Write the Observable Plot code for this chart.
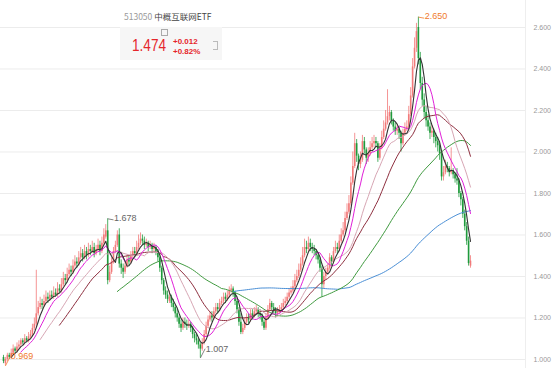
<!DOCTYPE html>
<html><head><meta charset="utf-8">
<script src="https://cdn.jsdelivr.net/npm/d3@7"></script>
<script src="https://cdn.jsdelivr.net/npm/@observablehq/plot@0.6"></script>
<style>
body{margin:0;background:#fff;}
#wrap{position:relative;width:552px;height:368px;overflow:hidden;}
#title{position:absolute;left:124px;top:10px;font-family:"Noto Sans CJK SC","Liberation Sans",sans-serif;font-size:8.5px;line-height:12px;white-space:nowrap;}
#title .code{color:#9a9a9a;}
#title .name{color:#444;}
#panel{position:absolute;left:120px;top:27px;width:102px;height:33px;background:#f6f6f6;}
#price{position:absolute;left:12px;top:9px;font-family:"Liberation Sans",sans-serif;font-size:17px;line-height:19px;color:#e5262b;transform:scaleX(0.8);transform-origin:left top;}
#chg{position:absolute;left:53px;top:10px;font-family:"Liberation Sans",sans-serif;font-size:8px;line-height:10px;color:#e5262b;font-weight:bold;}
#icon1{position:absolute;left:41px;top:2px;width:5px;height:5px;border:1px solid #aaa;}
#icon2{position:absolute;left:93px;top:14px;width:4px;height:7px;border:1px solid #bbb;border-left:none;}
</style></head><body>
<div id="wrap"><div id="chart"></div>
<div id="title"><span class="code">513050</span> <span class="name">中概互联网ETF</span></div>
<div id="panel"><div id="icon1"></div><div id="price">1.474</div><div id="chg">+0.012<br>+0.82%</div><div id="icon2"></div></div>
</div>
<script>
const openP=[
1.01,0.98,1.00,1.02,1.01,1.03,1.05,1.04,1.06,1.07,
1.09,1.08,1.10,1.09,1.11,1.12,1.15,1.17,1.22,1.25,
1.27,1.26,1.28,1.30,1.29,1.31,1.30,1.32,1.31,1.34,
1.33,1.36,1.39,1.38,1.41,1.43,1.42,1.45,1.47,1.46,
1.49,1.51,1.49,1.52,1.50,1.53,1.52,1.54,1.51,1.53,
1.55,1.52,1.56,1.59,1.62,1.38,1.42,1.47,1.52,1.55,
1.60,1.46,1.44,1.42,1.45,1.48,1.47,1.50,1.52,1.51,
1.54,1.56,1.58,1.57,1.55,1.56,1.54,1.55,1.53,1.54,
1.52,1.49,1.44,1.38,1.33,1.31,1.28,1.30,1.27,1.25,
1.22,1.20,1.17,1.15,1.18,1.17,1.16,1.17,1.15,1.12,
1.10,1.09,1.07,1.05,1.08,1.12,1.16,1.19,1.21,1.20,
1.23,1.25,1.24,1.27,1.28,1.30,1.29,1.31,1.33,1.34,
1.32,1.28,1.24,1.18,1.13,1.15,1.18,1.20,1.19,1.22,
1.21,1.23,1.24,1.22,1.21,1.18,1.15,1.20,1.24,1.27,
1.25,1.24,1.22,1.23,1.24,1.25,1.27,1.28,1.30,1.32,
1.33,1.35,1.38,1.40,1.43,1.46,1.50,1.54,1.53,1.56,
1.54,1.53,1.52,1.50,1.48,1.44,1.36,1.40,1.42,1.44,
1.49,1.47,1.52,1.54,1.53,1.57,1.60,1.62,1.68,1.71,
1.75,1.85,1.93,2.04,1.98,1.94,1.96,2.05,2.01,1.97,
1.99,2.02,2.04,2.05,2.04,1.97,2.02,2.07,2.11,2.14,
2.17,2.19,2.15,2.12,2.10,2.11,2.09,2.04,2.09,2.11,
2.12,2.18,2.27,2.41,2.50,2.60,2.45,2.33,2.25,2.19,
2.15,2.12,2.09,2.10,2.07,2.05,2.03,1.99,1.88,1.90,
1.93,1.92,1.90,1.91,1.89,1.87,1.86,1.80,1.77,1.70,
1.64,1.57,1.45];
const highP=[
1.02,1.01,1.03,1.03,1.05,1.07,1.06,1.08,1.09,1.10,
1.10,1.12,1.11,1.13,1.14,1.17,1.20,1.43,1.28,1.30,
1.29,1.31,1.33,1.32,1.33,1.33,1.35,1.34,1.37,1.36,
1.39,1.42,1.41,1.44,1.46,1.45,1.48,1.50,1.49,1.52,
1.54,1.53,1.55,1.54,1.56,1.55,1.57,1.56,1.55,1.58,
1.57,1.59,1.63,1.65,1.678,1.45,1.49,1.54,1.57,1.62,
1.63,1.48,1.46,1.47,1.50,1.50,1.52,1.54,1.54,1.57,
1.60,1.61,1.60,1.59,1.58,1.57,1.57,1.56,1.56,1.55,
1.53,1.50,1.45,1.39,1.35,1.33,1.33,1.31,1.29,1.26,
1.24,1.21,1.19,1.20,1.20,1.19,1.19,1.18,1.16,1.13,
1.12,1.10,1.08,1.10,1.14,1.18,1.21,1.23,1.23,1.25,
1.27,1.27,1.29,1.30,1.32,1.32,1.33,1.35,1.36,1.35,
1.33,1.29,1.25,1.22,1.17,1.20,1.22,1.22,1.24,1.24,
1.25,1.26,1.25,1.24,1.22,1.19,1.22,1.26,1.29,1.28,
1.27,1.25,1.25,1.26,1.27,1.29,1.30,1.32,1.34,1.35,
1.38,1.41,1.43,1.46,1.49,1.54,1.58,1.57,1.59,1.58,
1.56,1.55,1.53,1.51,1.49,1.45,1.42,1.44,1.46,1.51,
1.50,1.54,1.57,1.56,1.60,1.63,1.66,1.71,1.75,1.79,
1.88,2.00,2.09,2.06,1.99,2.00,2.08,2.07,2.02,2.02,
2.05,2.07,2.08,2.07,2.05,2.04,2.10,2.15,2.20,2.30,
2.22,2.20,2.16,2.14,2.13,2.12,2.10,2.11,2.14,2.15,
2.22,2.31,2.45,2.55,2.62,2.650,2.48,2.36,2.28,2.22,
2.18,2.14,2.13,2.11,2.09,2.07,2.04,2.00,1.93,1.96,
1.95,1.93,2.02,1.92,1.90,1.92,1.87,1.81,1.78,1.72,
1.66,1.59,1.50];
const lowP=[
0.98,0.969,0.99,1.00,1.00,1.02,1.03,1.03,1.05,1.06,
1.07,1.07,1.08,1.08,1.10,1.11,1.14,1.16,1.21,1.24,
1.24,1.25,1.27,1.27,1.28,1.29,1.29,1.30,1.30,1.32,
1.32,1.35,1.36,1.37,1.40,1.40,1.41,1.44,1.44,1.45,
1.48,1.47,1.48,1.48,1.49,1.50,1.51,1.49,1.50,1.52,
1.50,1.51,1.55,1.58,1.36,1.37,1.41,1.46,1.51,1.54,
1.44,1.41,1.39,1.41,1.44,1.45,1.46,1.49,1.49,1.50,
1.53,1.55,1.55,1.53,1.54,1.52,1.53,1.51,1.52,1.50,
1.47,1.42,1.36,1.31,1.29,1.27,1.27,1.25,1.23,1.20,
1.18,1.15,1.13,1.14,1.15,1.14,1.15,1.13,1.10,1.08,
1.07,1.05,1.007,1.04,1.07,1.11,1.15,1.18,1.18,1.19,
1.22,1.22,1.23,1.26,1.27,1.27,1.28,1.30,1.32,1.30,
1.26,1.22,1.16,1.12,1.12,1.14,1.17,1.17,1.18,1.19,
1.20,1.22,1.20,1.19,1.16,1.14,1.14,1.19,1.23,1.23,
1.22,1.20,1.21,1.22,1.23,1.24,1.26,1.27,1.29,1.31,
1.32,1.34,1.37,1.39,1.42,1.45,1.49,1.51,1.52,1.52,
1.51,1.50,1.48,1.46,1.42,1.30,1.34,1.38,1.41,1.43,
1.45,1.46,1.51,1.51,1.52,1.56,1.59,1.61,1.67,1.70,
1.74,1.84,1.92,1.95,1.91,1.92,1.95,1.99,1.94,1.95,
1.98,2.01,2.02,2.02,1.95,1.96,2.01,2.06,2.10,2.13,
2.15,2.13,2.10,2.08,2.08,2.06,2.00,2.03,2.08,2.10,
2.11,2.17,2.26,2.40,2.48,2.42,2.30,2.22,2.16,2.12,
2.10,2.06,2.07,2.04,2.02,2.00,1.96,1.86,1.86,1.89,
1.90,1.88,1.89,1.87,1.85,1.84,1.78,1.74,1.68,1.62,
1.55,1.45,1.44];
const closeP=[
0.99,1.00,1.02,1.01,1.03,1.05,1.04,1.06,1.07,1.09,
1.08,1.10,1.09,1.11,1.12,1.15,1.17,1.22,1.25,1.27,
1.26,1.28,1.30,1.29,1.31,1.30,1.32,1.31,1.34,1.33,
1.36,1.39,1.38,1.41,1.43,1.42,1.45,1.47,1.46,1.49,
1.51,1.49,1.52,1.50,1.53,1.52,1.54,1.51,1.53,1.55,
1.52,1.56,1.60,1.62,1.38,1.42,1.47,1.52,1.55,1.60,
1.46,1.44,1.42,1.45,1.48,1.47,1.50,1.52,1.51,1.54,
1.56,1.58,1.57,1.55,1.56,1.54,1.55,1.53,1.54,1.52,
1.49,1.44,1.38,1.33,1.31,1.29,1.30,1.27,1.25,1.22,
1.20,1.17,1.15,1.18,1.17,1.16,1.17,1.15,1.12,1.10,
1.09,1.07,1.05,1.08,1.12,1.16,1.19,1.21,1.20,1.23,
1.25,1.24,1.27,1.28,1.30,1.29,1.31,1.33,1.34,1.32,
1.28,1.24,1.18,1.13,1.15,1.18,1.20,1.19,1.22,1.21,
1.23,1.24,1.22,1.21,1.18,1.15,1.20,1.24,1.27,1.25,
1.24,1.22,1.23,1.24,1.25,1.27,1.28,1.30,1.32,1.33,
1.35,1.38,1.40,1.43,1.46,1.50,1.54,1.53,1.56,1.54,
1.53,1.52,1.50,1.48,1.44,1.36,1.40,1.42,1.44,1.49,
1.47,1.52,1.54,1.53,1.57,1.60,1.62,1.68,1.71,1.75,
1.85,1.93,2.04,1.98,1.94,1.96,2.05,2.01,1.97,1.99,
2.02,2.04,2.05,2.04,1.97,2.02,2.07,2.11,2.14,2.17,
2.19,2.15,2.12,2.10,2.11,2.09,2.04,2.09,2.11,2.12,
2.18,2.27,2.41,2.50,2.58,2.45,2.33,2.25,2.19,2.15,
2.12,2.09,2.10,2.07,2.05,2.03,1.99,1.88,1.90,1.93,
1.92,1.90,1.91,1.89,1.87,1.86,1.80,1.77,1.70,1.64,
1.57,1.462,1.474];
const yTicks=[1.0,1.2,1.4,1.6,1.8,2.0,2.2,2.4,2.6];
const maPeriods=[120,60,30,20,10,5];
const maColors=["#4a8fd6","#3f9a3f","#8e2f3f","#d7a6b4","#e020d8","#333333"];
const highMarks=[{i:54,text:"1.678",color:"#666"},{i:215,text:"2.650",color:"#f07a2c"}];
const lowMarks=[{i:1,text:"0.969",color:"#f07a2c"},{i:102,text:"1.007",color:"#666"}];

const data=closeP.map((c,i)=>({i,open:openP[i],high:highP[i],low:lowP[i],close:c}));
const up=data.filter(d=>d.close>=d.open), down=data.filter(d=>d.close<d.open);
const upC="#f27a7a", downC="#1f9a3c";
const hi=highMarks.map(m=>({...m,v:highP[m.i]}));
const lo=lowMarks.map(m=>({...m,v:lowP[m.i]}));

const chart=Plot.plot({
  width:552,height:368,marginLeft:0,marginRight:27,marginTop:0,marginBottom:0,
  style:{fontFamily:"Liberation Sans, sans-serif",fontSize:"7px",color:"#999",background:"#fff"},
  x:{domain:[-1.55,270.5],axis:null},
  y:{domain:[0.9566,2.7301],axis:"right",ticks:yTicks,tickFormat:d3.format(".3f"),tickSize:0,tickPadding:8,label:null},
  marks:[
    Plot.ruleY(yTicks,{stroke:"#ececec",strokeWidth:1}),
    Plot.ruleX([270.5],{stroke:"#eeeeee"}),
    Plot.ruleX(up,{x:"i",y1:"low",y2:"high",stroke:upC,strokeWidth:0.8}),
    Plot.ruleX(down,{x:"i",y1:"low",y2:"high",stroke:downC,strokeWidth:0.8}),
    Plot.ruleX(up,{x:"i",y1:"open",y2:"close",stroke:upC,strokeWidth:1.6}),
    Plot.ruleX(down,{x:"i",y1:"open",y2:"close",stroke:downC,strokeWidth:1.6}),
    ...maPeriods.map((k,j)=>Plot.lineY(data,Plot.windowY({k,anchor:"end",strict:true},{x:"i",y:"close",stroke:maColors[j],strokeWidth:k===5?1.1:1}))),
    Plot.link(hi,{x1:"i",y1:"v",x2:d=>d.i+3,y2:d=>d.v-0.005,stroke:"color",strokeWidth:0.8}),
    Plot.text(hi,{x:d=>d.i+3.3,y:d=>d.v-0.005,dy:-2,text:"text",fill:"color",textAnchor:"start",fontSize:9}),
    Plot.link(lo,{x1:"i",y1:"v",x2:d=>d.i+2.5,y2:d=>d.v+0.045,stroke:"color",strokeWidth:0.8}),
    Plot.text(lo,{x:d=>d.i+2.8,y:d=>d.v+0.045,text:"text",fill:"color",textAnchor:"start",fontSize:9})
  ]
});
document.getElementById("chart").append(chart);
</script>
</body></html>
